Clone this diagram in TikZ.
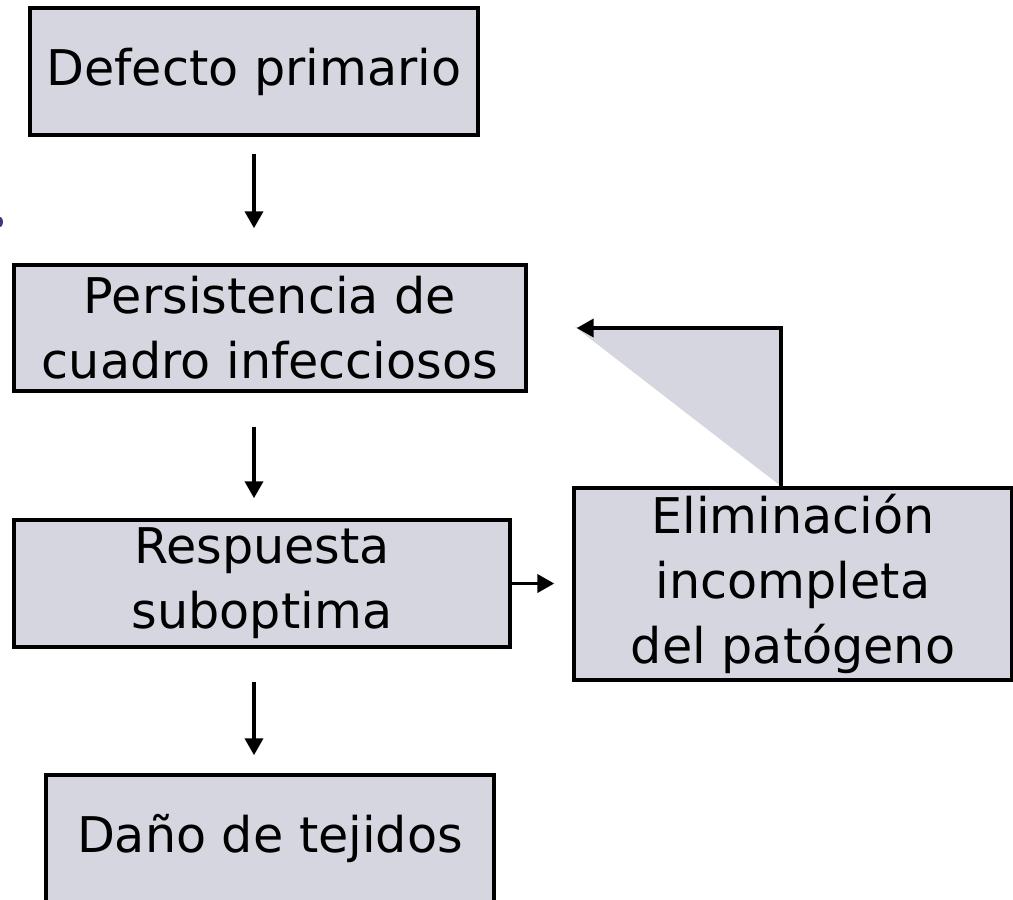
\documentclass[tikz,border=0pt]{standalone}
\usepackage{fontspec}
\setmainfont{DejaVu Sans}
\usetikzlibrary{arrows.meta,positioning,calc}

\begin{document}
\begin{tikzpicture}[x=0.02cm, y=-0.02cm,
    box/.style={draw=black, fill=boxColor, line width=2pt, align=center,
        inner sep=0pt, font=\fontsize{28}{37}\selectfont},
    flecha/.style={-{Triangle[width=0.36cm,length=0.34cm]}, line width=2.2pt}]
    % Color Palette
    \definecolor{boxColor}{HTML}{D6D6E1}
    \definecolor{bulletColor}{HTML}{3A3A7E}

    \useasboundingbox (0,0) rectangle (1013,899);

    % stray bullet on the left edge
    \fill[bulletColor] (-2,222) ellipse [x radius=0.1cm, y radius=0.12cm];

    % --- Boxes ---
    \node[box, minimum width=8.96cm, minimum height=2.54cm] (defecto) at (254,71.5) {Defecto primario};
    \node[box, minimum width=10.24cm, minimum height=2.52cm] (persist) at (270,328) {Persistencia de\\cuadro infecciosos};
    \node[box, minimum width=9.92cm, minimum height=2.54cm] (resp) at (262,583.5) {Respuesta\\suboptima};
    \node[box, minimum width=8.76cm, minimum height=3.84cm] (elim) at (793,584) {Eliminación\\incompleta\\del patógeno};
    \node[box, minimum width=8.96cm, minimum height=2.54cm] (dano) at (270,838.5) {Daño de tejidos};

    % feedback corner
    \coordinate (giro) at (781,327);
    \fill[boxColor] (575,327) -- (giro) -- (giro |- elim.north);

    % Arrows
    \draw[flecha, shorten <=0.34cm, shorten >=0.7cm] (defecto.south) -- (defecto.south |- persist.north);
    \draw[flecha, shorten <=0.68cm, shorten >=0.4cm] (defecto.south |- persist.south) -- (defecto.south |- resp.north);
    \draw[flecha, shorten <=0.66cm, shorten >=0.36cm] (defecto.south |- resp.south) -- (defecto.south |- dano.north);
    \draw[flecha, shorten >=0.36cm] (resp.east) -- (resp.east -| elim.west);
    \draw[flecha, shorten >=0.98cm] (giro |- elim.north) |- (persist.east);

\end{tikzpicture}
\end{document}
